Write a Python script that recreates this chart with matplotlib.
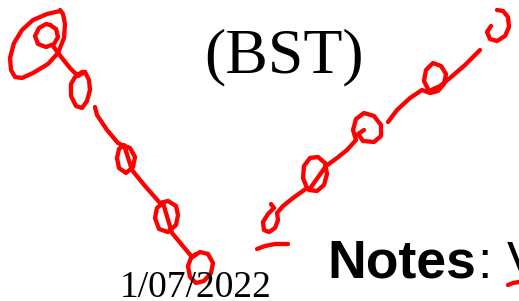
import matplotlib.pyplot as plt

# handwritten red ink strokes, in pixel coordinates of the slide crop (x right, y down)
big_loop = [(60, 11), (47, 14), (33, 20), (22, 30), (14, 43), (10, 58), (11, 70), (15, 77),
            (22, 78), (33, 73), (48, 64), (58, 53), (64, 38), (65, 24), (63, 14), (60, 10)]
small_loop = [(50, 25), (56, 29), (58, 37), (54, 44), (46, 47), (38, 44), (35, 36), (39, 28),
              (46, 24), (50, 25)]
left_chain = [(53, 46), (62, 58), (70, 68), (78, 76), (85, 72), (89, 80), (90, 90), (87, 101),
              (82, 108), (76, 106), (71, 96), (71, 84), (75, 77), (82, 72), (85, 72)]
left_chain_2 = [(95, 107), (97, 115), (107, 130), (118, 143), (122, 145), (130, 148), (135, 157),
                (133, 167), (126, 173), (119, 168), (117, 158), (119, 149), (124, 145),
                (132, 170), (145, 186), (160, 203), (168, 201), (176, 206), (178, 215),
                (176, 225), (168, 232), (159, 229), (155, 218), (157, 208), (163, 203),
                (172, 233), (182, 245), (192, 257), (200, 252), (208, 254), (213, 263),
                (211, 273), (204, 281), (196, 283), (190, 277), (188, 266), (191, 258),
                (196, 254)]
dash = [(257, 249), (265, 246), (275, 244), (288, 244)]
right_chain = [(271, 204), (274, 208), (268, 214), (263, 222), (264, 230), (269, 232), (275, 228),
               (278, 220), (277, 213), (283, 206), (293, 198), (307, 188), (303, 178),
               (304, 166), (310, 158), (318, 157), (325, 163), (327, 174), (324, 185),
               (317, 191), (309, 190), (326, 166), (337, 158), (347, 150),
               (356, 140), (353, 130), (356, 119), (364, 113), (374, 116), (381, 125),
               (381, 136), (374, 142), (363, 141), (358, 134), (364, 130)]
right_chain_2 = [(388, 122), (397, 110), (410, 98), (422, 90), (430, 93), (438, 91), (444, 84),
                 (446, 74), (441, 66), (433, 63), (426, 70), (424, 81), (429, 91), (440, 86),
                 (450, 78), (465, 65), (480, 50)]
top_hook = [(491, 26), (487, 32), (490, 39), (497, 41), (505, 36), (509, 27), (508, 17),
            (503, 11), (497, 10)]
under_v = [(508, 285), (513, 283), (519, 282)]

strokes = [big_loop, small_loop, left_chain, left_chain_2, dash, right_chain, right_chain_2,
           top_hook, under_v]

title_tail = "y"
subtitle = "(BST)"
date_text = "1/07/2022"
notes_label = "Notes"
notes_rest = ":"
notes_link = "V"

fig = plt.figure(figsize=(5.19, 3.01), dpi=100)
ax = fig.add_axes([0, 0, 1, 1])
ax.set_xlim(0, 519)
ax.set_ylim(301, 0)
ax.axis("off")

serif = ["Liberation Serif", "DejaVu Serif"]
sans = ["Liberation Sans", "DejaVu Sans"]

ax.text(176, -15, title_tail, family=serif, fontsize=48, va="baseline", ha="left")
ax.text(204, 72, subtitle, family=serif, fontsize=46, va="baseline", ha="left")
ax.text(120, 297, date_text, family=serif, fontsize=27, va="baseline", ha="left")
ax.text(327, 278, notes_label, family=sans, fontsize=38.5, fontweight="bold",
        va="baseline", ha="left")
ax.text(477, 278, notes_rest, family=sans, fontsize=37, va="baseline", ha="left")
ax.text(507, 278, notes_link, family=sans, fontsize=37, va="baseline", ha="left")

for s in strokes:
    xs, ys = zip(*s)
    ax.plot(xs, ys, color="#ff0000", lw=3.1, solid_capstyle="round", solid_joinstyle="round")

fig.savefig("out.png", dpi=100)
